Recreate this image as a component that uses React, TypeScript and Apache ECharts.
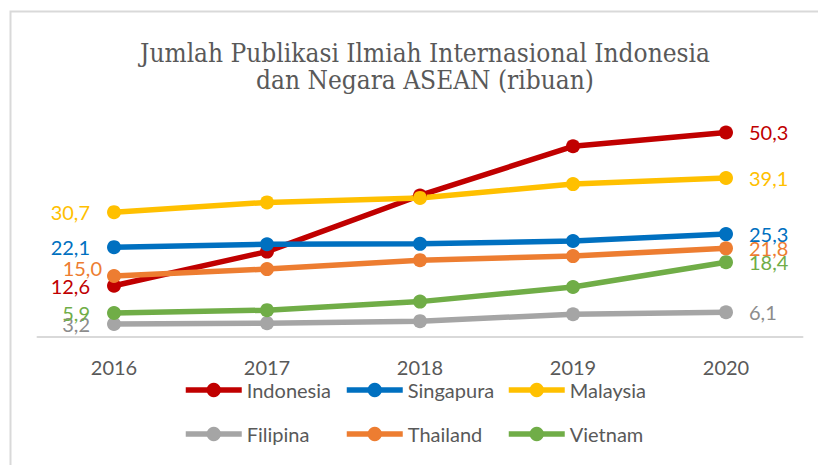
import React, { useEffect, useRef } from "react";
import * as echarts from "echarts";

const years = ["2016", "2017", "2018", "2019", "2020"];
const seriesNames = ["Indonesia", "Singapura", "Malaysia", "Filipina", "Thailand", "Vietnam"];
const indonesia = [12.6, 21.0, 34.8, 46.9, 50.3];
const singapura = [22.1, 22.8, 22.9, 23.6, 25.3];
const malaysia = [30.7, 33.1, 34.2, 37.6, 39.1];
const filipina = [3.2, 3.4, 3.9, 5.6, 6.1];
const thailand = [15.0, 16.7, 18.9, 19.9, 21.8];
const vietnam = [5.9, 6.6, 8.7, 12.3, 18.4];
const colors = ["#C00000", "#0070C0", "#FFC000", "#A5A5A5", "#ED7D31", "#70AD47"];
const labelColors = ["#C00000", "#0070C0", "#FFC000", "#8C8C8C", "#ED7D31", "#70AD47"];

const FONT = "Lato, 'Open Sans', sans-serif";

export default function App() {
  const ref = useRef<HTMLDivElement>(null);
  useEffect(() => {
    document.body.style.margin = "0";
    const chart = echarts.init(ref.current!, undefined, { renderer: "svg" });
    const all = [indonesia, singapura, malaysia, filipina, thailand, vietnam];
    const last = years.length - 1;
    const series = all.map((vals, si) => ({
      name: seriesNames[si],
      type: "line",
      data: vals.map((v, i) => {
        const base: any = { value: v };
        if (i === 0) {
          base.label = {
            show: true,
            position: "left",
            distance: 17,
            offset: seriesNames[si] === "Thailand" ? [12, -8] : [0, 0],
          };
        } else if (i === last) {
          base.label = { show: true, position: "right", distance: 16 };
        } else {
          base.label = { show: false };
        }
        return base;
      }),
      symbol: "circle",
      symbolSize: 14,
      lineStyle: { width: 5.5, color: colors[si] },
      itemStyle: { color: colors[si] },
      label: {
        fontFamily: FONT,
        fontSize: 20,
        color: labelColors[si],
        formatter: (p: any) => Number(p.value).toFixed(1).replace(".", ","),
      },
    }));
    const colX = [183, 344, 506];
    const rowY = [380, 424];
    const legends = seriesNames.map((name, i) => ({
      data: [name],
      left: colX[i % 3],
      top: rowY[Math.floor(i / 3)],
      padding: 0,
      itemWidth: 56,
      itemHeight: 18,
      lineStyle: { width: 5.5 },
      textStyle: { fontFamily: FONT, fontSize: 20, color: "#595959" },
    }));
    chart.setOption({
      animation: false,
      color: colors,
      title: {
        text: "Jumlah Publikasi Ilmiah Internasional Indonesia\ndan Negara ASEAN (ribuan)",
        left: 420,
        textAlign: "center",
        top: 34,
        textStyle: {
          fontFamily: "'DejaVu Serif Condensed', 'DejaVu Serif', serif",
          fontWeight: "normal",
          fontSize: 26,
          lineHeight: 27,
          color: "#595959",
        },
      },
      legend: legends,
      grid: { left: 37.5, right: 15.5, top: 93, bottom: 128 },
      xAxis: {
        type: "category",
        data: years,
        boundaryGap: true,
        axisLine: { lineStyle: { color: "#D9D9D9", width: 2 } },
        axisTick: { show: false },
        axisLabel: { fontFamily: FONT, fontSize: 20, color: "#595959", margin: 20 },
      },
      yAxis: {
        type: "value",
        min: 0,
        max: 60,
        show: false,
        splitLine: { show: false },
      },
      graphic: [
        {
          type: "rect",
          shape: { x: 10.5, y: 11.5, width: 900, height: 600 },
          style: { fill: "none", stroke: "#D9D9D9", lineWidth: 2 },
          silent: true,
          z: -10,
        },
      ],
      series,
    });
    return () => chart.dispose();
  }, []);
  return <div ref={ref} style={{ width: 818, height: 465 }} />;
}
